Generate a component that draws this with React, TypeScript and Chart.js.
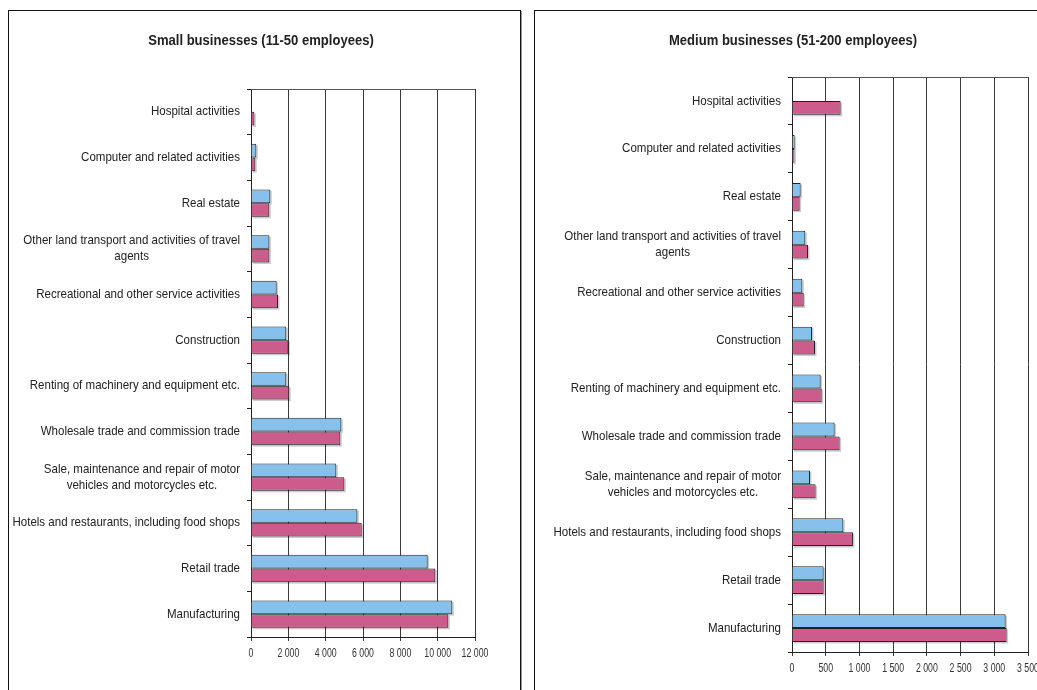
import React, { useEffect, useRef } from "react";
import { Chart, registerables } from "chart.js";

Chart.register(...registerables);

// ---------- data ----------
const categories: (string | string[])[] = [
  "Hospital activities",
  "Computer and related activities",
  "Real estate",
  ["Other land transport and activities of travel", "agents"],
  "Recreational and other service activities",
  "Construction",
  "Renting of machinery and equipment etc.",
  "Wholesale trade and commission trade",
  ["Sale, maintenance and repair of motor", "vehicles and motorcycles etc."],
  "Hotels and restaurants, including food shops",
  "Retail trade",
  "Manufacturing",
];

const smallSeriesA: (number | null)[] = [null, 285, 1035, 985, 1375, 1890, 1890, 4840, 4570, 5700, 9465, 10785];
const smallSeriesB: (number | null)[] = [180, 230, 980, 985, 1445, 2000, 2050, 4785, 5000, 5930, 9875, 10570];

const mediumSeriesA: (number | null)[] = [null, 39, 128, 197, 153, 297, 425, 632, 267, 761, 469, 3168];
const mediumSeriesB: (number | null)[] = [721, 35, 113, 237, 173, 341, 440, 706, 350, 904, 469, 3183];

const smallTitle = "Small businesses (11-50 employees)";
const mediumTitle = "Medium businesses (51-200 employees)";

const smallTicks = [0, 2000, 4000, 6000, 8000, 10000, 12000];
const mediumTicks = [0, 500, 1000, 1500, 2000, 2500, 3000, 3500];

const seriesNames = ["Series A", "Series B"];

// ---------- styling ----------
const BLUE = "#86C1EC";
const PINK = "#CC5C8C";
const FONT = '"Liberation Sans", Arial, sans-serif';

function fmt(n: number): string {
  return String(n).replace(/\B(?=(\d{3})+(?!\d))/g, " ");
}

function condensed(ctx: CanvasRenderingContext2D, text: string, x: number, y: number, sx: number) {
  ctx.save();
  ctx.translate(x, y);
  ctx.scale(sx, 1);
  ctx.textAlign = "center";
  ctx.textBaseline = "middle";
  ctx.fillText(text, 0, 0);
  ctx.restore();
}

type Area = { left: number; right: number; top: number; bottom: number };

type PanelProps = {
  left: number;
  width: number;
  height: number;
  title: string;
  titleX: number;
  seriesA: (number | null)[];
  seriesB: (number | null)[];
  ticks: number[];
  area: Area;
  catPct: number;
};

function Panel(props: PanelProps) {
  const ref = useRef<HTMLCanvasElement | null>(null);
  const cw = props.width - 2;
  const ch = props.height - 2;

  useEffect(() => {
    if (!ref.current) return;
    const { area, ticks } = props;
    const step = ticks[1] - ticks[0];
    const max = ticks[ticks.length - 1];

    const decor = {
      id: "decor",
      beforeDatasetsDraw(chart: any) {
        const ctx: CanvasRenderingContext2D = chart.ctx;
        ctx.save();
        ctx.fillStyle = "rgba(0,0,0,0.2)";
        chart.data.datasets.forEach((ds: any, di: number) => {
          const meta = chart.getDatasetMeta(di);
          meta.data.forEach((el: any, i: number) => {
            if (ds.data[i] == null) return;
            const p = el.getProps(["x", "y", "base", "height"], true);
            const l = Math.min(p.x, p.base);
            const w = Math.abs(p.x - p.base);
            ctx.fillRect(l + 1.5, p.y - p.height / 2 + 1.5, w, p.height);
          });
        });
        ctx.restore();
      },
      afterDraw(chart: any) {
        const ctx: CanvasRenderingContext2D = chart.ctx;
        const ca = chart.chartArea;
        ctx.save();
        // top border of plot area
        ctx.strokeStyle = "#555";
        ctx.lineWidth = 1;
        ctx.beginPath();
        ctx.moveTo(ca.left, Math.round(ca.top) + 0.5);
        ctx.lineTo(ca.right, Math.round(ca.top) + 0.5);
        ctx.stroke();

        // title
        ctx.fillStyle = "#222";
        ctx.font = `bold 15px ${FONT}`;
        condensed(ctx, props.title, props.titleX, 29.5, 0.87);

        // category labels
        ctx.font = `13px ${FONT}`;
        ctx.fillStyle = "#222";
        const ys = chart.scales.y;
        const sx = 0.887;
        categories.forEach((lab, i) => {
          const lines = Array.isArray(lab) ? lab : [lab];
          const yc = ys.getPixelForValue(i);
          const widths = lines.map((t) => ctx.measureText(t).width * sx);
          const block = Math.max(...widths);
          const cx = ca.left - 11 - block / 2;
          const lh = 16;
          lines.forEach((t, k) => {
            const y = yc + (k - (lines.length - 1) / 2) * lh;
            condensed(ctx, t, cx, y, sx);
          });
        });

        // x tick labels
        ctx.font = `12.5px ${FONT}`;
        ctx.fillStyle = "#333";
        const xs = chart.scales.x;
        xs.ticks.forEach((t: any) => {
          const x = xs.getPixelForValue(t.value);
          condensed(ctx, fmt(t.value), x, ca.bottom + 17, 0.7);
        });
        ctx.restore();
      },
    };

    const chart = new Chart(ref.current, {
      type: "bar",
      data: {
        labels: categories.map((c) => (Array.isArray(c) ? c.join(" ") : c)),
        datasets: [
          {
            label: seriesNames[0],
            data: props.seriesA,
            backgroundColor: BLUE,
            borderColor: "#222",
            borderWidth: 1,
            categoryPercentage: props.catPct,
            barPercentage: 1,
          },
          {
            label: seriesNames[1],
            data: props.seriesB,
            backgroundColor: PINK,
            borderColor: "#222",
            borderWidth: 1,
            categoryPercentage: props.catPct,
            barPercentage: 1,
          },
        ],
      },
      options: {
        indexAxis: "y",
        responsive: false,
        maintainAspectRatio: false,
        animation: false,
        layout: {
          padding: {
            left: 0,
            right: cw - area.right,
            top: area.top,
            bottom: ch - area.bottom - 30,
          },
        },
        plugins: {
          legend: { display: false },
          title: { display: false },
          tooltip: { enabled: false },
        },
        scales: {
          x: {
            type: "linear",
            min: 0,
            max,
            ticks: { stepSize: step, display: false },
            grid: { color: "#3a3a3a", lineWidth: 1, tickLength: 4, drawTicks: true },
            border: { color: "#222", width: 1 },
            afterFit: (s: any) => {
              s.height = 30;
            },
          },
          y: {
            type: "category",
            offset: true,
            ticks: { display: false },
            grid: { offset: true, drawOnChartArea: false, drawTicks: true, tickLength: 4, color: "#222" },
            border: { color: "#222", width: 1 },
            afterFit: (s: any) => {
              s.width = area.left;
            },
          },
        },
      } as any,
      plugins: [decor],
    });
    return () => chart.destroy();
  }, []);

  return (
    <div
      style={{
        position: "absolute",
        left: props.left,
        top: 10,
        width: props.width,
        height: props.height,
        boxSizing: "border-box",
        border: "1px solid #111",
        boxShadow: "1px 1px 0 #999",
        background: "#fff",
      }}
    >
      <canvas ref={ref} width={cw} height={ch} style={{ display: "block", width: cw, height: ch }} />
    </div>
  );
}

export default function App() {
  return (
    <div
      style={{
        position: "fixed",
        left: 0,
        top: 0,
        width: 1037,
        height: 690,
        overflow: "hidden",
        background: "#fff",
      }}
    >
      <Panel
        left={8}
        width={513}
        height={700}
        title={smallTitle}
        titleX={252}
        seriesA={smallSeriesA}
        seriesB={smallSeriesB}
        ticks={smallTicks}
        area={{ left: 242, right: 466, top: 78, bottom: 626 }}
        catPct={0.6}
      />
      <Panel
        left={534}
        width={518}
        height={700}
        title={mediumTitle}
        titleX={258}
        seriesA={mediumSeriesA}
        seriesB={mediumSeriesB}
        ticks={mediumTicks}
        area={{ left: 257, right: 493, top: 66, bottom: 641 }}
        catPct={0.58}
      />
    </div>
  );
}
